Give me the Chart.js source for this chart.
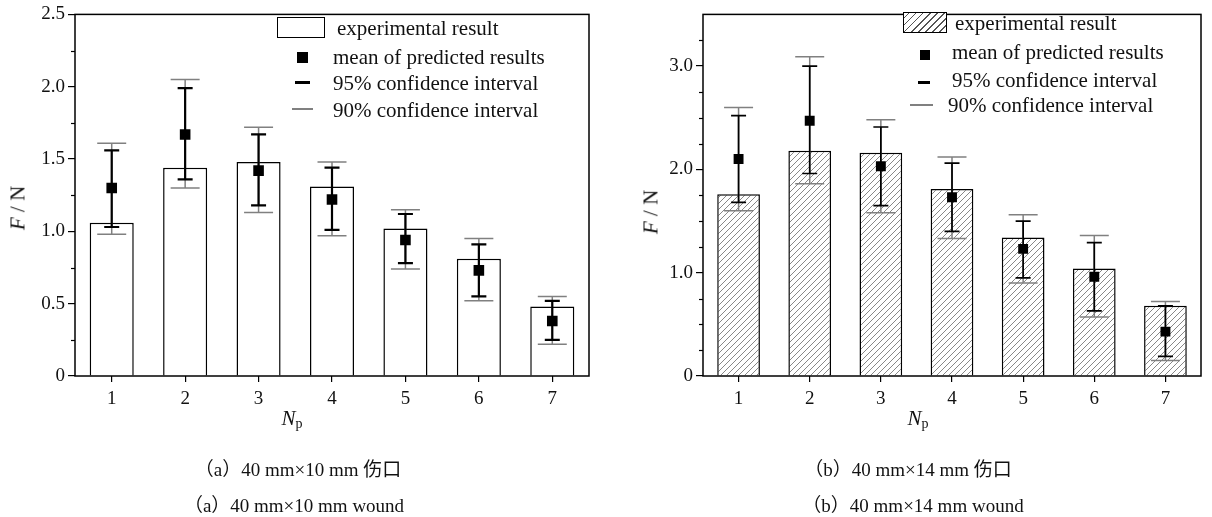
<!DOCTYPE html>
<html>
<head>
<meta charset="utf-8">
<script src="https://cdn.jsdelivr.net/npm/chart.js@4/dist/chart.umd.min.js"></script>
<style>
    body { margin: 0; background: #fff; width: 1212px; height: 517px; position: relative; overflow: hidden;
           font-family: "Liberation Serif", "Noto Sans CJK SC", serif; color: #111; }
    canvas { position: absolute; top: 0; }
    #chartA { left: 0; }
    #chartB { left: 610px; }
    .abs { position: absolute; white-space: nowrap; }
    .lg { font-size: 21px; transform: translateY(-50%); }
    .ytitle { font-size: 21px; transform: translate(-50%, -50%) rotate(-90deg); }
    .xtitle { font-size: 21px; transform: translate(-50%, -50%); }
    .xtitle sub { font-size: 14px; vertical-align: -3px; }
    .cap { font-size: 19px; transform: translate(-50%, -50%); }
    .box { border: 1.5px solid #000; box-sizing: border-box; }
    .hatch { background: repeating-linear-gradient(-45deg, #fff 0 4px, #555 4px 5px); }
</style>
</head>
<body>
<canvas id="chartA" width="600" height="440"></canvas>
<canvas id="chartB" width="602" height="440"></canvas>

<!-- axis titles -->
<div class="abs ytitle" style="left:18px; top:208px"><i>F</i> / N</div>
<div class="abs xtitle" style="left:292px; top:419px"><i>N</i><sub>p</sub></div>
<div class="abs ytitle" style="left:651px; top:212px"><i>F</i> / N</div>
<div class="abs xtitle" style="left:918px; top:419px"><i>N</i><sub>p</sub></div>

<!-- legend (a) -->
<div class="abs box" style="left:277px; top:17px; width:48px; height:21px"></div>
<div class="abs lg" style="left:337px; top:28px">experimental result</div>
<div class="abs" style="left:297px; top:52px; width:11px; height:11px; background:#000"></div>
<div class="abs lg" style="left:333px; top:57px">mean of predicted results</div>
<div class="abs" style="left:295px; top:81px; width:15px; height:2.5px; background:#000"></div>
<div class="abs lg" style="left:333px; top:83px">95% confidence interval</div>
<div class="abs" style="left:292px; top:108px; width:21px; height:1.5px; background:#808080"></div>
<div class="abs lg" style="left:333px; top:110px">90% confidence interval</div>

<!-- legend (b) -->
<div class="abs box hatch" style="left:903px; top:12px; width:44px; height:21px"></div>
<div class="abs lg" style="left:955px; top:23px">experimental result</div>
<div class="abs" style="left:920px; top:50px; width:10px; height:10px; background:#000"></div>
<div class="abs lg" style="left:952px; top:52px">mean of predicted results</div>
<div class="abs" style="left:918px; top:81px; width:12px; height:2.5px; background:#000"></div>
<div class="abs lg" style="left:952px; top:80px">95% confidence interval</div>
<div class="abs" style="left:910px; top:104px; width:23px; height:1.5px; background:#808080"></div>
<div class="abs lg" style="left:948px; top:105px">90% confidence interval</div>

<!-- captions -->
<div class="abs cap" style="left:298px; top:467px">（a）40 mm×10 mm 伤口</div>
<div class="abs cap" style="left:294px; top:503px">（a）40 mm×10 mm wound</div>
<div class="abs cap" style="left:908px; top:467px">（b）40 mm×14 mm 伤口</div>
<div class="abs cap" style="left:913px; top:503px">（b）40 mm×14 mm wound</div>

<script>
const categories = ["1", "2", "3", "4", "5", "6", "7"];

// (a) 40 mm x 10 mm
const expA = [1.06, 1.44, 1.48, 1.31, 1.02, 0.81, 0.48];
const meanA = [1.30, 1.67, 1.42, 1.22, 0.94, 0.73, 0.38];
const lo95A = [1.03, 1.36, 1.18, 1.01, 0.78, 0.55, 0.25];
const hi95A = [1.56, 1.99, 1.67, 1.44, 1.12, 0.91, 0.52];
const lo90A = [0.98, 1.30, 1.13, 0.97, 0.74, 0.52, 0.22];
const hi90A = [1.61, 2.05, 1.72, 1.48, 1.15, 0.95, 0.55];
const yTicksA = [0, 0.5, 1.0, 1.5, 2.0, 2.5];

// (b) 40 mm x 14 mm
const expB = [1.76, 2.18, 2.16, 1.81, 1.34, 1.04, 0.68];
const meanB = [2.10, 2.47, 2.03, 1.73, 1.23, 0.96, 0.43];
const lo95B = [1.68, 1.96, 1.65, 1.40, 0.95, 0.63, 0.19];
const hi95B = [2.52, 3.00, 2.41, 2.06, 1.50, 1.29, 0.68];
const lo90B = [1.60, 1.86, 1.58, 1.33, 0.90, 0.57, 0.15];
const hi90B = [2.60, 3.09, 2.48, 2.12, 1.56, 1.36, 0.72];
const yTicksB = [0, 1.0, 2.0, 3.0];

const tickFont = { family: '"Liberation Serif", serif', size: 19 };

// box around the plot area
const framePlugin = {
    id: "frame",
    afterDraw(chart) {
        const { ctx, chartArea: a } = chart;
        ctx.save();
        ctx.strokeStyle = "#000";
        ctx.lineWidth = 1.5;
        ctx.strokeRect(a.left, a.top, a.right - a.left, a.bottom - a.top);
        ctx.restore();
    }
};

// small ticks between the labelled ones
const minorTicksPlugin = {
    id: "minorTicks",
    afterDraw(chart, args, opts) {
        const y = chart.scales.y;
        const ctx = chart.ctx;
        ctx.save();
        ctx.strokeStyle = "#000";
        ctx.lineWidth = 1.2;
        for (let v = y.min; v <= y.max + 1e-9; v += opts.step) {
            const isMajor = opts.majors.some(m => Math.abs(m - v) < 1e-9);
            if (isMajor) continue;
            const py = Math.round(y.getPixelForValue(v)) + 0.5;
            ctx.beginPath();
            ctx.moveTo(chart.chartArea.left - 4, py);
            ctx.lineTo(chart.chartArea.left, py);
            ctx.stroke();
        }
        ctx.restore();
    }
};

// confidence intervals, drawn after the bars and before the mean markers
const errorBarsPlugin = {
    id: "errorBars",
    afterDatasetDraw(chart, args, opts) {
        if (args.index !== 0) return;
        const { ctx } = chart;
        const x = chart.scales.x, y = chart.scales.y;

        function bar(i, lo, hi, half, color, width) {
            const px = x.getPixelForValue(i);
            const pLo = y.getPixelForValue(lo), pHi = y.getPixelForValue(hi);
            ctx.strokeStyle = color;
            ctx.lineWidth = width;
            ctx.beginPath();
            ctx.moveTo(px, pLo); ctx.lineTo(px, pHi);
            ctx.moveTo(px - half, pLo); ctx.lineTo(px + half, pLo);
            ctx.moveTo(px - half, pHi); ctx.lineTo(px + half, pHi);
            ctx.stroke();
        }

        ctx.save();
        opts.lo90.forEach((lo, i) => bar(i, lo, opts.hi90[i], 14.5, "#808080", 1.5));
        opts.lo95.forEach((lo, i) => bar(i, lo, opts.hi95[i], 7.5, "#000", opts.width95));
        ctx.restore();
    }
};

function hatchPattern() {
    const c = document.createElement("canvas");
    c.width = 6; c.height = 6;
    const g = c.getContext("2d");
    g.fillStyle = "#fff";
    g.fillRect(0, 0, 6, 6);
    g.strokeStyle = "#555";
    g.lineWidth = 0.7;
    g.beginPath();
    g.moveTo(-1, 7); g.lineTo(7, -1);
    g.moveTo(-1, 1); g.lineTo(1, -1);
    g.moveTo(5, 7); g.lineTo(7, 5);
    g.stroke();
    return g.createPattern(c, "repeat");
}

function buildChart(id, cfg) {
    const ctx = document.getElementById(id).getContext("2d");
    return new Chart(ctx, {
        type: "bar",
        data: {
            labels: categories,
            datasets: [
                {
                    type: "bar",
                    data: cfg.exp,
                    backgroundColor: cfg.fill,
                    borderColor: "#000",
                    borderWidth: 1.5,
                    barPercentage: 0.6,
                    categoryPercentage: 1,
                    order: 2
                },
                {
                    type: "line",
                    data: cfg.mean,
                    showLine: false,
                    pointStyle: "rect",
                    pointRadius: cfg.markerRadius,
                    pointBackgroundColor: "#000",
                    pointBorderWidth: 0,
                    order: 1
                }
            ]
        },
        options: {
            responsive: false,
            animation: false,
            events: [],
            layout: { padding: { top: cfg.top, right: cfg.right, left: 0, bottom: 0 } },
            plugins: {
                legend: { display: false },
                tooltip: { enabled: false },
                errorBars: { lo95: cfg.lo95, hi95: cfg.hi95, lo90: cfg.lo90, hi90: cfg.hi90, width95: cfg.width95 },
                minorTicks: { step: 0.25, majors: cfg.yTicks.concat([cfg.max]) }
            },
            scales: {
                x: {
                    grid: { offset: false, drawOnChartArea: false, tickLength: 6, color: "#000", lineWidth: 1.2 },
                    border: { display: false },
                    ticks: { font: tickFont, color: "#111", padding: 6 },
                    afterFit: s => { s.height = 64; }
                },
                y: {
                    min: 0,
                    max: cfg.max,
                    grid: { drawOnChartArea: false, tickLength: 7, color: "#000", lineWidth: 1.2 },
                    border: { display: false },
                    ticks: {
                        font: tickFont,
                        color: "#111",
                        padding: 3,
                        callback: v => (v === 0 ? "0" : v.toFixed(1))
                    },
                    afterBuildTicks: s => { s.ticks = cfg.yTicks.map(v => ({ value: v })); },
                    afterFit: s => { s.width = cfg.axisWidth; }
                }
            }
        },
        plugins: [framePlugin, minorTicksPlugin, errorBarsPlugin]
    });
}

buildChart("chartA", {
    exp: expA, mean: meanA, lo95: lo95A, hi95: hi95A, lo90: lo90A, hi90: hi90A,
    yTicks: yTicksA, max: 2.5, fill: "#fff", markerRadius: 7.5, width95: 2.2,
    top: 14, right: 11, axisWidth: 75
});

buildChart("chartB", {
    exp: expB, mean: meanB, lo95: lo95B, hi95: hi95B, lo90: lo90B, hi90: hi90B,
    yTicks: yTicksB, max: 3.5, fill: hatchPattern(), markerRadius: 7, width95: 1.7,
    top: 10, right: 11, axisWidth: 93
});
</script>
</body>
</html>
